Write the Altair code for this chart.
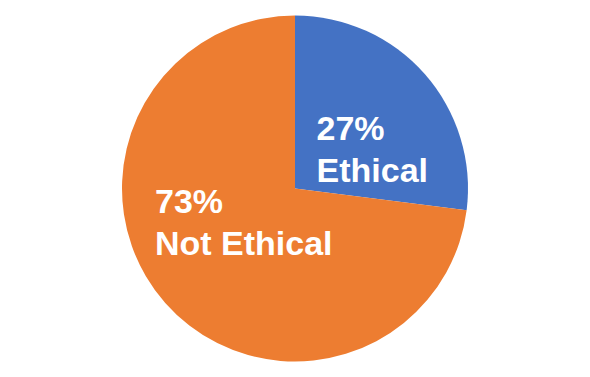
import altair as alt
import pandas as pd

categories = ["Ethical", "Not Ethical"]
values = [27, 73]
labels = ["27%\nEthical", "73%\nNot Ethical"]
colors = ["#4472C4", "#ED7D31"]
order = [1, 2]

df = pd.DataFrame({"category": categories, "value": values, "label": labels, "order": order})

theta_scale = alt.Scale(domain=[0, sum(values)])

base = alt.Chart(df).transform_stack(
    stack="value", groupby=[], as_=["v0", "v1"], sort=[alt.SortField("order")]
).transform_calculate(mid="(datum.v0 + datum.v1) / 2")

pie = base.mark_arc(outerRadius=173, strokeWidth=0).encode(
    theta=alt.Theta("v0:Q", scale=theta_scale),
    theta2="v1:Q",
    color=alt.Color("category:N", scale=alt.Scale(domain=categories, range=colors), legend=None),
)

txt_style = dict(align="left", baseline="middle", fontSize=34, font="Liberation Sans",
                 fontWeight="bold", color="white", lineBreak="\n", lineHeight=42)

t1 = base.transform_filter(alt.datum.category == "Ethical").mark_text(
    radius=90, dx=-46, dy=1, **txt_style
).encode(theta=alt.Theta("mid:Q", scale=theta_scale), text="label:N")

t2 = base.transform_filter(alt.datum.category == "Not Ethical").mark_text(
    radius=60, dx=-95, dy=-25, **txt_style
).encode(theta=alt.Theta("mid:Q", scale=theta_scale), text="label:N")

chart = alt.layer(pie, t1, t2).properties(
    width=590, height=377, padding=0,
    autosize=alt.AutoSizeParams(type="fit", contains="padding"),
).configure_view(stroke=None)

chart.save("out.html", embed_options={"renderer": "svg", "actions": False})
